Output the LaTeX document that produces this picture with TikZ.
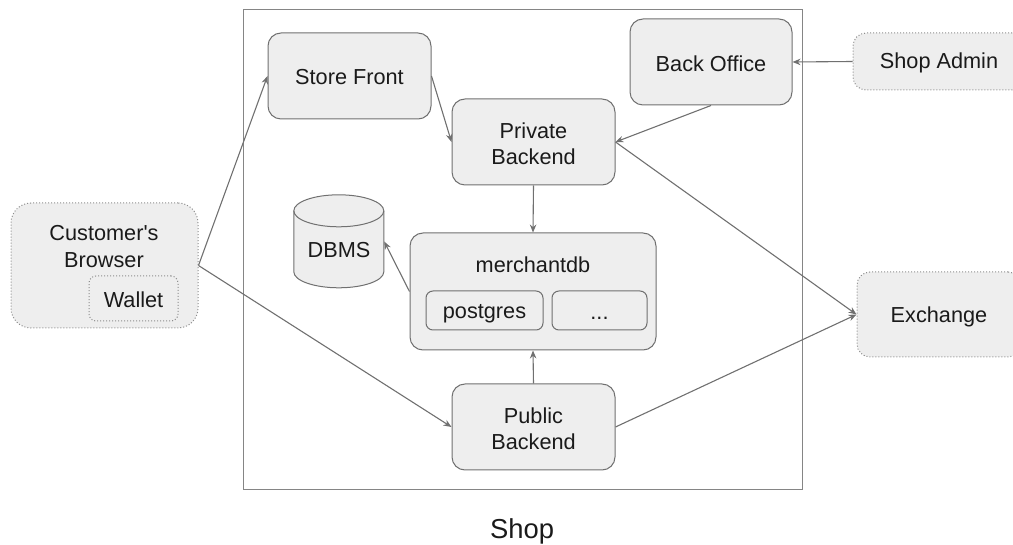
\documentclass[tikz,border=0pt]{standalone}
\usepackage{fontspec}
\setmainfont{Liberation Sans}
\usetikzlibrary{arrows.meta}
\definecolor{boxfill}{HTML}{EEEEEE}
\definecolor{boxline}{HTML}{707070}
\definecolor{txt}{HTML}{1A1A1A}
\tikzset{
  box/.style={draw=boxline,fill=boxfill,line width=1pt,rounded corners=13pt,inner sep=0pt},
  ext/.style={box,dotted,draw=boxline!80,rounded corners=13pt},
  inbox/.style={box,rounded corners=7pt},
  plain/.style={inner sep=0pt,text=txt,align=center,font=\fontsize{21.7}{26.2}\selectfont},
  conn/.style={draw=boxline,line width=1.1pt,-{Stealth[length=8pt,width=6.5pt]}}
}
\begin{document}
\begin{tikzpicture}[x=1pt,y=-1pt]
\useasboundingbox (0,0) rectangle (1013,545);
\clip (0,0) rectangle (1013,545);
\node[draw=boxline!85,line width=1pt,minimum width=559pt,minimum height=479pt,inner sep=0pt] (shop) at (522.5,249.5) {};
\node[plain,font=\fontsize{27.4}{32}\selectfont] (shoplabel) at (522,531) {Shop};
\node[box,minimum width=163pt,minimum height=86pt] (store) at (349.5,76) {};
\node[plain] (storelabel) at (349.5,77.5) {Store Front};
\node[box,minimum width=162pt,minimum height=86pt] (office) at (711,62) {};
\node[plain] (officelabel) at (711,64) {Back Office};
\node[box,minimum width=163pt,minimum height=86pt] (private) at (533.5,142) {};
\node[plain] (privatelabel) at (533.5,144) {Private\\Backend};
\node[box,minimum width=246pt,minimum height=117pt] (mdb) at (533,291.5) {};
\node[plain] (mdblabel) at (533,265) {merchantdb};
\node[inbox,minimum width=117pt,minimum height=39pt] (pg) at (484.5,310.5) {};
\node[plain] (pglabel) at (484.5,314) {postgres};
\node[inbox,minimum width=95pt,minimum height=39pt] (dots) at (599.5,310.5) {};
\node[plain] (dotslabel) at (599.5,318) {...};
\node[box,minimum width=163pt,minimum height=86pt] (public) at (533.5,427) {};
\node[plain] (publiclabel) at (533.5,429) {Public\\Backend};
\node[minimum width=90pt,minimum height=93pt,inner sep=0pt] (dbms) at (339,241.5) {};
\draw[draw=boxline,fill=boxfill,line width=1pt] (dbms.north west) ++(0,16) arc[start angle=180,end angle=0,x radius=45,y radius=-16] -- ++(0,61) arc[start angle=0,end angle=-180,x radius=45,y radius=-16] -- cycle;
\draw[draw=boxline,line width=1pt] (dbms.north west) ++(0,16) arc[start angle=180,end angle=360,x radius=45,y radius=-16];
\node[plain] (dbmslabel) at (339,250.5) {DBMS};
\node[ext,rounded corners=20pt,minimum width=187pt,minimum height=125pt] (browser) at (104.5,265.5) {};
\node[plain] (browserlabel) at (104,246.5) {Customer\textquotesingle s\\Browser};
\node[ext,rounded corners=7pt,minimum width=89pt,minimum height=45pt] (wallet) at (133.5,298.5) {};
\node[plain] (walletlabel) at (133.5,299.5) {Wallet};
\node[ext,minimum width=172pt,minimum height=57pt] (admin) at (939,61.5) {};
\node[plain] (adminlabel) at (939,63) {Shop Admin};
\node[ext,minimum width=164pt,minimum height=85pt] (exchange) at (939,314.5) {};
\node[plain] (exchangelabel) at (939,317) {Exchange};
\draw[conn] (browser.east) -- (store.west);
\draw[conn] (browser.east) -- (public.west);
\draw[conn] (store.east) -- (private.west);
\draw[conn] (office.south) -- (private.east);
\draw[conn] (admin.west) -- (office.east);
\draw[conn] (private.south) -- (mdb.north);
\draw[conn] (mdb.west) -- (dbms.east);
\draw[conn] (public.north) -- (mdb.south);
\draw[conn] (private.east) -- (exchange.west);
\draw[conn] (public.east) -- (exchange.west);
\end{tikzpicture}
\end{document}
